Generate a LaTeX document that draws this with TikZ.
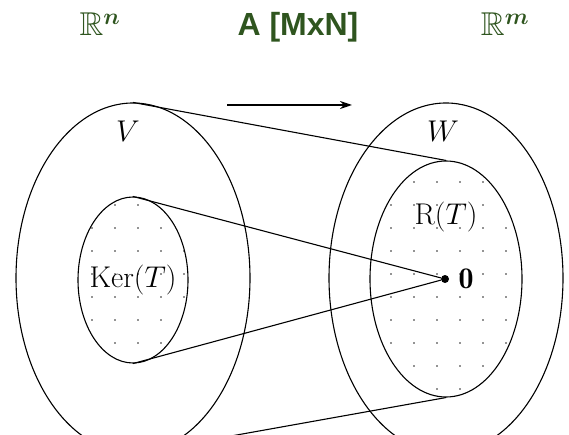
\documentclass[tikz,border=0pt]{standalone}
\usepackage{fix-cm}
\usepackage{amssymb}
\usepackage{amsmath}
\usepackage{bm}
\usepackage{fontspec}
\newfontfamily\headfont{Liberation Sans}
\usetikzlibrary{positioning,shapes.geometric,patterns.meta,arrows.meta}
\definecolor{headgreen}{RGB}{47,85,31}
\tikzset{
  space/.style={ellipse, draw, line width=1.1pt, inner sep=0pt,
    minimum width=234pt, minimum height=350pt},
  subspace/.style={ellipse, draw, line width=1.1pt, inner sep=0pt,
    pattern={Dots[distance=23pt,radius=0.8pt]}, pattern color=black!85},
  bigmath/.style={font=\fontsize{30}{36}\selectfont},
  head/.style={text=headgreen, anchor=base, font=\fontsize{33}{38}\selectfont},
}

\begin{document}
\begin{tikzpicture}[x=1pt,y=-1pt]
\useasboundingbox (0,0) rectangle (569,435);
\clip (0,0) rectangle (569,435);

\node[head] (Rn) at (100,36) {$\mathbb{R}^{\bm{n}}$};
\node[head, font=\headfont\bfseries\fontsize{32}{36}\selectfont] (A) at (298,36) {A [MxN]};
\node[head] (Rm) at (505,36) {$\mathbb{R}^{\bm{m}}$};

\coordinate (a1) at (227,105);
\coordinate (a2) at (352,105);
\draw[-{Stealth[length=12pt,width=8pt]}, line width=1.6pt] (a1) -- (a2);

\node[space] (V) at (133,278) {};
\node[space] (W) at (446,278) {};

\node[subspace, minimum width=110pt, minimum height=166pt] (Ker) at (133,280) {};
\node[subspace, minimum width=152pt, minimum height=236pt] (R) at (446,279) {};

\node[bigmath] (Kerlab) at (Ker.center) {$\mathrm{Ker}(T)$};
\node[bigmath] (Vlab) at (128,131) {$V$};
\node[bigmath] (Wlab) at (443,131) {$W$};
\node[bigmath] (Rlab) at (446,217) {$\mathrm{R}(T)$};

\node[circle, fill, inner sep=0pt, minimum size=8pt] (zero) at (445,279) {};
\node[bigmath, right=6pt of zero] (zerolab) {$\mathbf{0}$};

\draw[line width=1.1pt] (V.north) -- (R.north);
\draw[line width=1.1pt] (Ker.north) -- (zero);
\draw[line width=1.1pt] (Ker.south) -- (zero);
\draw[line width=1.1pt] (V.south) -- (R.south);
\end{tikzpicture}
\end{document}
